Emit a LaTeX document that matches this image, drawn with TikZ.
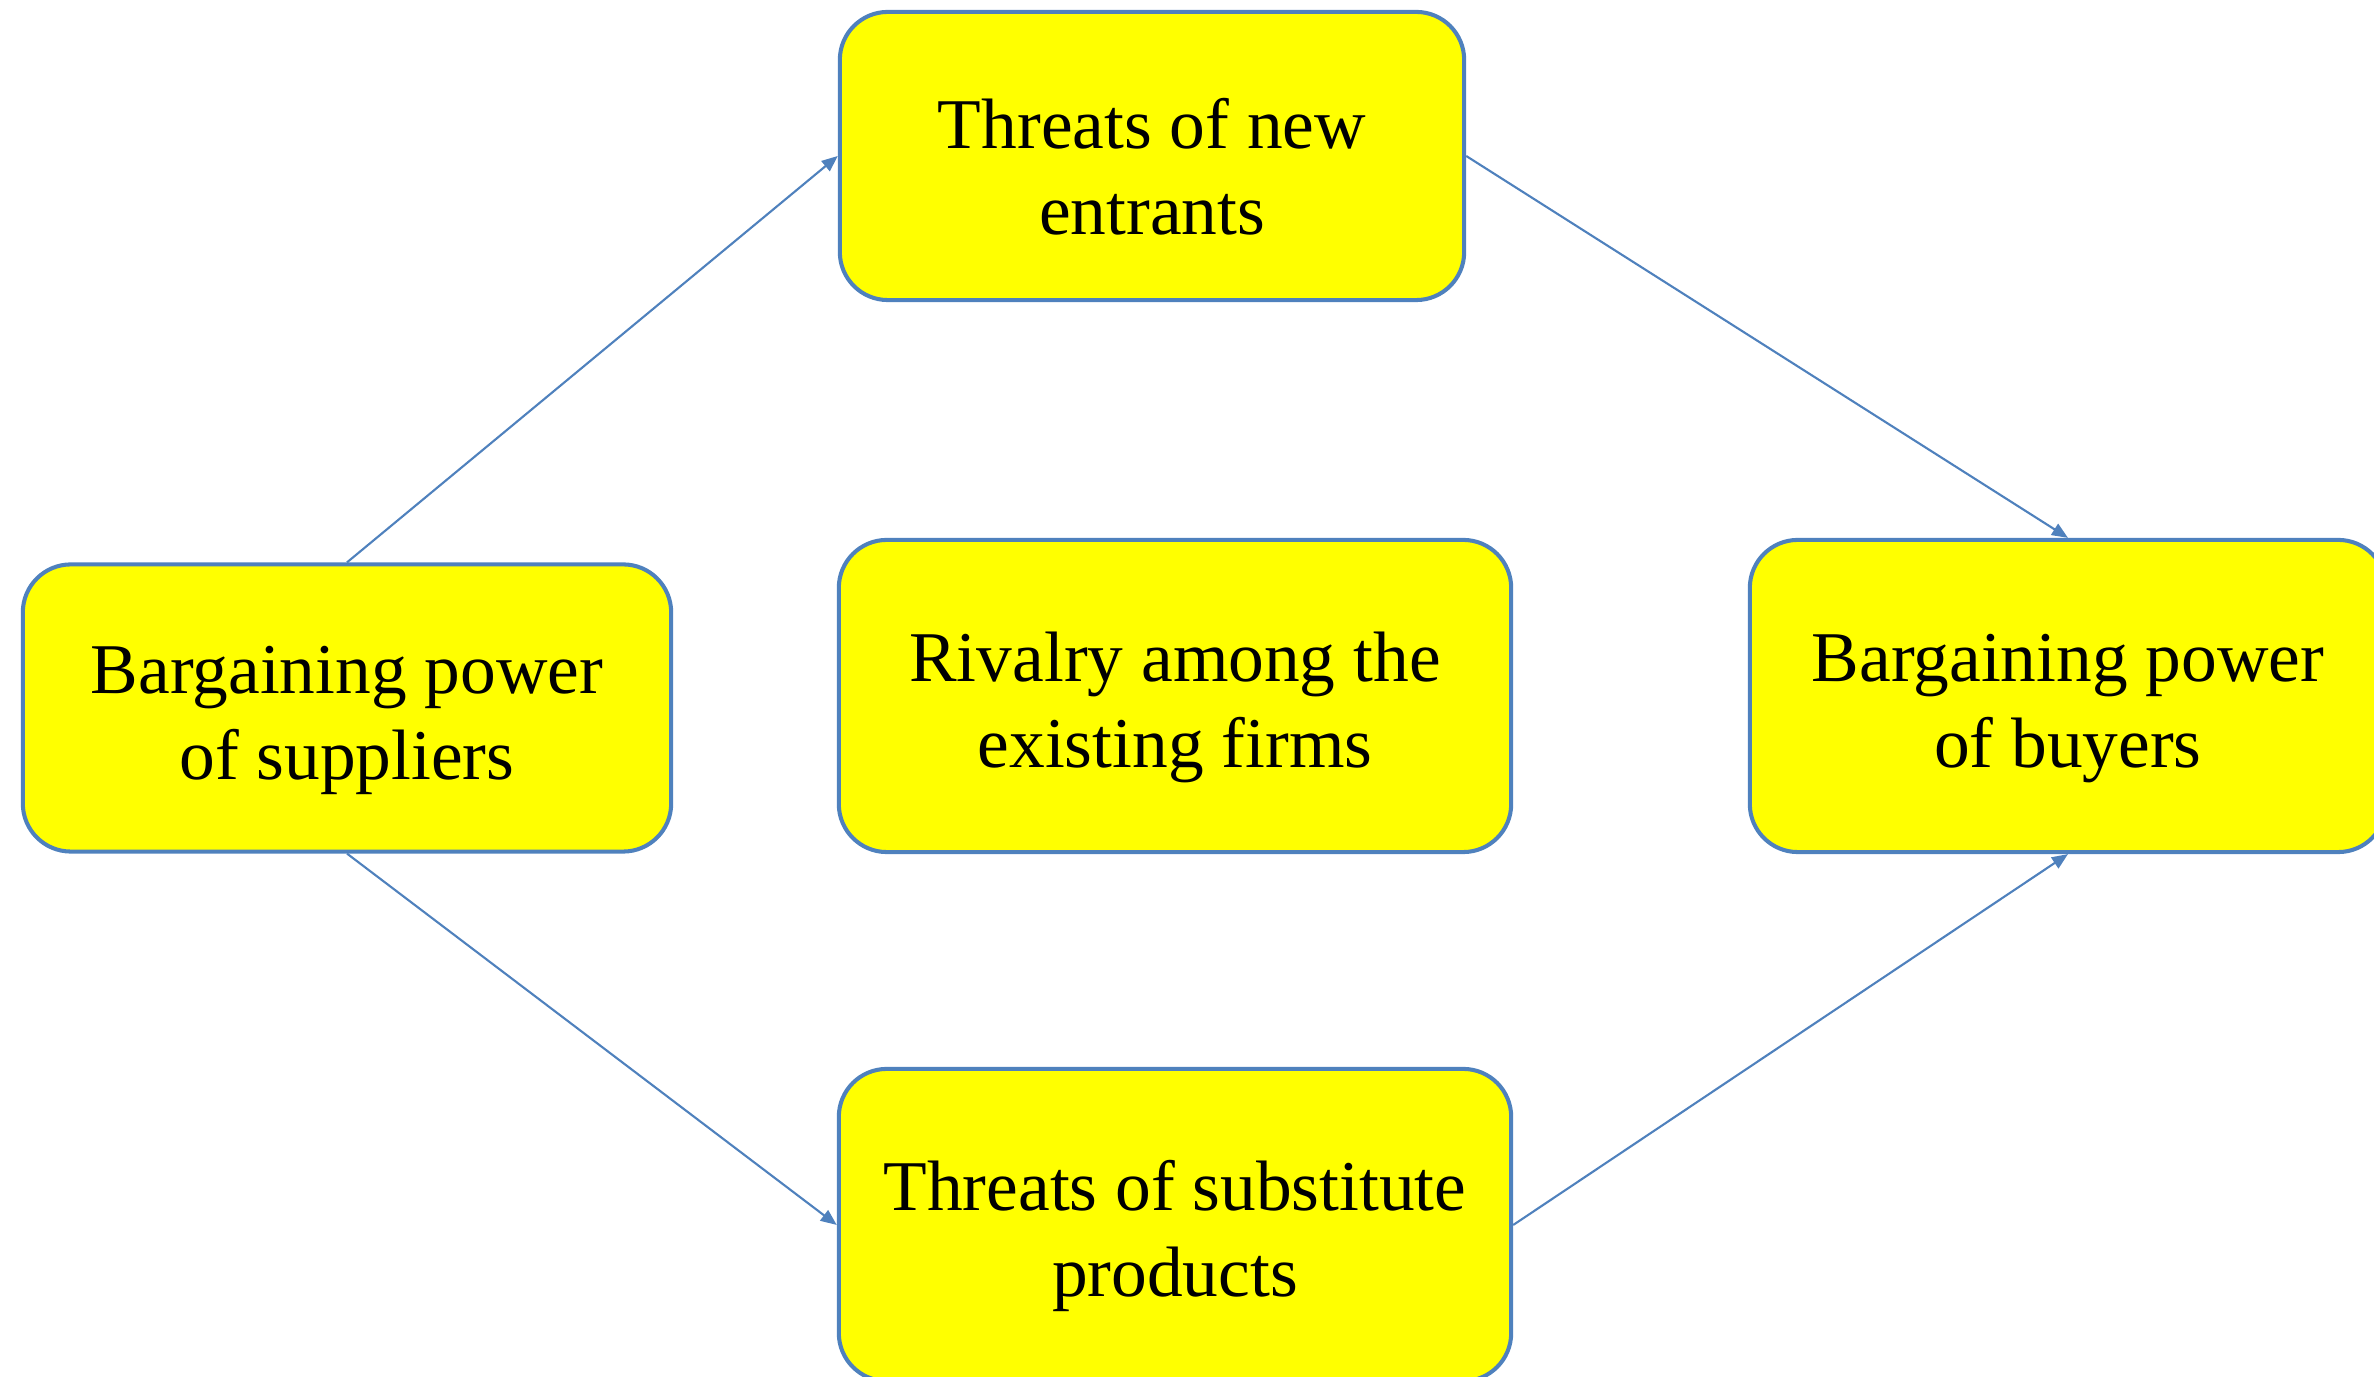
\documentclass[tikz,border=0pt]{standalone}
\usepackage{fontspec}
\setmainfont{Liberation Serif}
\usetikzlibrary{arrows.meta}
\definecolor{boxfill}{HTML}{FFFF00}
\definecolor{boxline}{HTML}{4F81BD}
% a taller first line sets the two lines slightly below the middle of a box
\newcommand{\tallline}{\rule{0pt}{0.72cm}}
\begin{document}
\begin{tikzpicture}[x=0.01cm,y=-0.01cm,
  force/.style={draw=boxline, fill=boxfill, line width=1.15pt,
    rounded corners=0.48cm, align=center, inner sep=0pt,
    font=\fontsize{20.3}{24.4}\selectfont},
  link/.style={draw=boxline, line width=0.6pt,
    -{Triangle[length=0.16cm,width=0.13cm]}}]
  \useasboundingbox (0,0) rectangle (2374,1377);
  \clip (0,0) rectangle (2374,1377);

  \node[force, minimum width=6.48cm, minimum height=2.87cm] (sup) at (347,708)
    {\tallline Bargaining power\\of suppliers};
  \node[force, minimum width=6.24cm, minimum height=2.88cm] (ent) at (1152,156)
    {\tallline Threats of new\\entrants};
  \node[force, minimum width=6.72cm, minimum height=3.12cm] (riv) at (1175,696)
    {\tallline Rivalry among the\\existing firms};
  \node[force, minimum width=6.36cm, minimum height=3.12cm] (buy) at (2068,696)
    {\tallline Bargaining power\\of buyers};
  \node[force, minimum width=6.72cm, minimum height=3.12cm] (sub) at (1175,1225)
    {\tallline Threats of substitute\\products};

  \draw[link] (sup.north) -- (ent.west);
  \draw[link] (ent.east) -- (buy.north);
  \draw[link] (sup.south) -- (sub.west);
  \draw[link] (sub.east) -- (buy.south);
\end{tikzpicture}
\end{document}
